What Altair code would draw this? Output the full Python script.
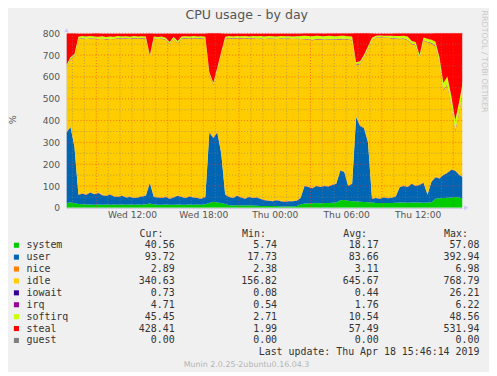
import altair as alt
import pandas as pd

# ---------------- data ----------------
series = ["system", "user", "nice", "idle", "iowait", "irq", "softirq", "steal", "guest"]
colors = ["#00CC00", "#0066B3", "#FF8000", "#FFCC00", "#330099", "#990099", "#CCFF00", "#FF0000", "#808080"]

# samples every 20 minutes starting Wed 06:30 (hours since Wed 00:00)
start_hour = 6.5
step_hour = 1 / 3

system = [22, 24, 22, 18, 16, 15, 15, 14, 15, 14,
          15, 14, 15, 14, 15, 14, 15, 14, 15, 14,
          16, 20, 15, 14, 14, 15, 14, 14, 15, 14,
          14, 15, 14, 15, 14, 16, 22, 28, 25, 22,
          18, 12, 11, 12, 11, 11, 12, 11, 10, 9,
          8, 8, 8, 8, 6, 6, 7, 6, 8, 15,
          20, 20, 21, 22, 21, 22, 22, 23, 24, 35,
          36, 33, 30, 30, 28, 27, 26, 24, 22, 22,
          22, 22, 22, 23, 24, 24, 23, 24, 24, 24,
          23, 24, 26, 42, 44, 45, 46, 48, 50, 48,
          41]
user = [323, 346, 258, 42, 49, 45, 55, 48, 53, 44,
        40, 46, 37, 36, 40, 34, 35, 31, 33, 38,
        39, 95, 35, 34, 31, 35, 28, 34, 40, 36,
        31, 37, 34, 30, 28, 34, 323, 292, 320, 228,
        42, 38, 34, 43, 37, 31, 38, 34, 38, 31,
        27, 24, 22, 27, 24, 22, 23, 24, 24, 30,
        80, 75, 69, 78, 74, 78, 76, 82, 86, 135,
        129, 67, 80, 385, 347, 338, 274, 18, 23, 20,
        26, 22, 24, 29, 71, 76, 72, 86, 76, 81,
        92, 36, 94, 98, 91, 105, 114, 127, 120, 102,
        99]
nice = [3.2, 3.1, 3.0, 2.9, 3.0, 3.1, 2.9, 3.0, 3.2, 3.0,
        2.9, 3.1, 3.0, 2.8, 3.0, 3.1, 2.9, 3.0, 3.0, 3.1,
        3.0, 3.4, 2.9, 3.0, 3.1, 2.9, 3.0, 3.1, 3.0, 2.9,
        3.0, 3.1, 2.9, 3.0, 3.0, 3.1, 4.5, 5.2, 4.8, 3.6,
        3.0, 2.9, 3.0, 3.1, 2.9, 3.0, 3.0, 2.9, 3.1, 3.0,
        2.9, 3.0, 2.8, 2.9, 3.0, 2.9, 2.8, 3.0, 2.9, 3.0,
        3.1, 3.2, 3.0, 3.1, 3.2, 3.0, 3.1, 3.2, 3.1, 3.4,
        3.3, 3.1, 3.2, 4.6, 4.4, 4.2, 3.8, 3.1, 3.0, 2.9,
        3.0, 2.9, 3.0, 3.1, 3.2, 3.1, 3.2, 3.3, 3.2, 3.3,
        3.2, 3.1, 3.3, 3.4, 3.2, 3.1, 3.0, 3.1, 2.9, 2.9,
        2.9]
idle = [296.5, 306.5, 411.5, 711.5, 707.5, 710.5, 702.5, 708.5, 701.5, 713.5,
        713.5, 710.5, 717.5, 724.5, 717.5, 725.5, 721.5, 729.5, 724.5, 721.5,
        717.5, 571.5, 722.5, 722.5, 727.5, 716.5, 704.5, 723.5, 696.5, 722.5,
        728.5, 720.5, 726.5, 727.5, 731.5, 721.5, 261.5, 236.5, 281.5, 451.5,
        711.5, 724.5, 727.5, 719.5, 725.5, 732.5, 722.5, 729.5, 723.5, 732.5,
        735.5, 740.5, 741.5, 735.5, 742.5, 743.5, 742.5, 740.5, 739.5, 725.5,
        669.5, 672.5, 675.5, 668.5, 673.5, 666.5, 669.5, 662.5, 657.5, 598.5,
        604.5, 667.5, 655.5, 234.5, 279.5, 319.5, 424.5, 722.5, 730.5, 734.5,
        727.5, 732.5, 727.5, 720.5, 674.5, 671.5, 670.5, 637.5, 642.5, 575.5,
        647.5, 695.5, 630.5, 596.5, 524.5, 384.5, 399.5, 289.5, 179.5, 284.5,
        394.5]
iowait = [0.5, 0.6, 0.5, 0.4, 0.4, 0.3, 0.4, 0.5, 0.4, 0.3,
          0.4, 0.4, 0.3, 0.4, 0.5, 0.4, 0.3, 0.4, 0.4, 0.3,
          0.4, 0.6, 0.4, 0.3, 0.4, 0.4, 0.5, 0.4, 0.3, 0.4,
          0.4, 0.3, 0.4, 0.4, 0.3, 0.4, 0.8, 0.9, 0.7, 0.5,
          0.4, 0.3, 0.4, 0.4, 0.3, 0.4, 0.4, 0.3, 0.4, 0.4,
          0.3, 0.4, 0.3, 0.4, 0.3, 0.4, 0.3, 0.4, 0.3, 0.4,
          0.5, 0.4, 0.5, 0.4, 0.5, 0.4, 0.5, 0.4, 0.5, 0.6,
          0.5, 0.4, 0.5, 0.7, 0.6, 0.6, 0.5, 0.4, 0.3, 0.4,
          0.4, 0.3, 0.4, 0.4, 0.5, 0.4, 0.5, 0.4, 0.5, 0.4,
          0.5, 0.4, 0.5, 0.6, 0.6, 0.7, 0.7, 0.8, 0.7, 0.7,
          0.7]
irq = [1.8, 1.9, 1.8, 1.6, 1.6, 1.5, 1.6, 1.7, 1.6, 1.5,
       1.6, 1.6, 1.5, 1.6, 1.5, 1.6, 1.5, 1.6, 1.5, 1.6,
       1.5, 2.2, 1.6, 1.5, 1.6, 1.5, 1.6, 1.5, 1.6, 1.5,
       1.6, 1.5, 1.6, 1.5, 1.6, 1.6, 2.4, 2.6, 2.5, 2.0,
       1.6, 1.5, 1.6, 1.5, 1.4, 1.5, 1.4, 1.5, 1.4, 1.5,
       1.4, 1.3, 1.4, 1.3, 1.4, 1.3, 1.4, 1.3, 1.4, 1.5,
       1.8, 1.7, 1.8, 1.7, 1.8, 1.7, 1.8, 1.7, 1.8, 2.1,
       2.0, 1.8, 1.8, 2.6, 2.5, 2.4, 2.1, 1.7, 1.6, 1.6,
       1.7, 1.6, 1.7, 1.7, 1.9, 1.9, 1.8, 2.0, 1.9, 2.0,
       2.1, 1.9, 2.1, 2.6, 3.0, 3.4, 3.8, 4.2, 4.5, 4.6,
       4.7]
softirq = [8, 8, 8, 8, 10, 10, 10, 10, 10, 10,
           10, 10, 10, 8, 8, 8, 8, 8, 8, 8,
           8, 8, 8, 8, 8, 8, 8, 8, 8, 8,
           8, 8, 8, 8, 8, 8, 8, 8, 8, 8,
           8, 8, 8, 8, 8, 8, 8, 8, 10, 10,
           10, 10, 10, 10, 10, 10, 10, 10, 10, 12,
           14, 15, 16, 15, 14, 15, 16, 15, 14, 14,
           14, 14, 14, 10, 10, 10, 10, 10, 8, 8,
           8, 8, 10, 10, 12, 12, 14, 12, 12, 14,
           12, 14, 14, 18, 25, 30, 35, 40, 45, 45,
           45]
steal = [145, 110, 95, 15, 12, 14, 12, 14, 15, 13,
         16, 14, 15, 12, 14, 13, 15, 12, 14, 13,
         14, 100, 14, 16, 14, 20, 40, 15, 35, 14,
         13, 14, 12, 14, 13, 15, 180, 230, 160, 85,
         15, 12, 14, 12, 13, 12, 14, 12, 13, 12,
         14, 12, 13, 14, 12, 13, 12, 14, 13, 12,
         11, 12, 13, 11, 12, 13, 11, 12, 13, 12,
         11, 13, 15, 135, 130, 100, 60, 20, 11, 10,
         11, 10, 11, 12, 13, 11, 15, 35, 40, 100,
         20, 25, 30, 40, 110, 230, 200, 290, 400, 315,
         215]
guest = [0.00] * len(system)

cur_vals = [40.56, 93.72, 2.89, 340.63, 0.73, 4.71, 45.45, 428.41, 0.00]
min_vals = [5.74, 17.73, 2.38, 156.82, 0.08, 0.54, 2.71, 1.99, 0.00]
avg_vals = [18.17, 83.66, 3.11, 645.67, 0.44, 1.76, 10.54, 57.49, 0.00]
max_vals = [57.08, 392.94, 6.98, 768.79, 26.21, 6.22, 48.56, 531.94, 0.00]

x_tick_hours = [12, 18, 24, 30, 36]
x_tick_labels = ["Wed 12:00", "Wed 18:00", "Thu 00:00", "Thu 06:00", "Thu 12:00"]
y_ticks = [0, 100, 200, 300, 400, 500, 600, 700, 800]
h_minor = [50, 150, 250, 350, 450, 550, 650, 750]
h_major = [100, 200, 300, 400, 500, 600, 700, 800]
v_major = [9, 15, 21, 27, 33, 39]
v_minor = [h for h in range(7, 40) if h not in v_major]

title_text = "CPU usage - by day"
y_title = "%"
side_text = "RRDTOOL / TOBI OETIKER"
headers = ["Cur:", "Min:", "Avg:", "Max:"]
last_update = "Last update: Thu Apr 18 15:46:14 2019"
version_text = "Munin 2.0.25-2ubuntu0.16.04.3"

# ---------------- build ----------------
W, H = 399, 176
hours = [start_hour + k * step_hour for k in range(len(system))]
all_vals = [system, user, nice, idle, iowait, irq, softirq, steal, guest]
rows = []
for i, (name, vals) in enumerate(zip(series, all_vals)):
    for hh, v in zip(hours, vals):
        rows.append({"hour": hh, "value": v, "series": name, "idx": i})
df = pd.DataFrame(rows)

xscale = alt.Scale(domain=[6.5, 39.75], nice=False, zero=False)
yscale = alt.Scale(domain=[0, 800], nice=False)
cscale = alt.Scale(domain=series, range=colors)

label_expr = " : ".join(
    f"datum.value == {h} ? '{l}'" for h, l in zip(x_tick_hours, x_tick_labels)
) + " : ''"

axis_color = "#c8c8dc"
lab_color = "#555555"

x_axis = alt.Axis(values=x_tick_hours, labelExpr=label_expr, grid=False, ticks=False,
                  labelPadding=3, labelFont="DejaVu Sans", labelFontSize=9.2,
                  labelColor=lab_color, domainColor=axis_color, title="",
                  labelFlush=False, labelOverlap=False)
y_axis = alt.Axis(values=y_ticks, grid=False, ticks=False, labelPadding=7,
                  labelFont="DejaVu Sans", labelFontSize=9.2, labelColor=lab_color,
                  domainColor=axis_color, title="", labelFlush=False)

area = alt.Chart(df).mark_area(clip=True, interpolate="linear").encode(
    x=alt.X("hour:Q", scale=xscale, axis=x_axis),
    y=alt.Y("value:Q", stack="zero", scale=yscale, axis=y_axis),
    color=alt.Color("series:N", scale=cscale, legend=None),
    order=alt.Order("idx:Q", sort="ascending"),
)

def hrule(vals, color, op):
    return alt.Chart(pd.DataFrame({"value": vals})).mark_rule(
        stroke=color, strokeDash=[1, 2], strokeWidth=1, opacity=op
    ).encode(y=alt.Y("value:Q", scale=yscale, axis=y_axis))

def vrule(vals, color, op):
    return alt.Chart(pd.DataFrame({"hour": vals})).mark_rule(
        stroke=color, strokeDash=[1, 2], strokeWidth=1, opacity=op
    ).encode(x=alt.X("hour:Q", scale=xscale, axis=x_axis))

grid = [
    hrule(h_minor, "#808080", 0.55),
    vrule(v_minor, "#808080", 0.55),
    hrule(h_major, "#ff3030", 0.6),
    vrule(v_major, "#ff3030", 0.6),
]

def text_layer(txt, x, y, size, color, font="DejaVu Sans", align="left", angle=0):
    return alt.Chart(pd.DataFrame({"t": [txt]})).mark_text(
        font=font, fontSize=size, color=color, align=align, baseline="middle", angle=angle
    ).encode(text="t:N", x=alt.value(x), y=alt.value(y))

arrows = [
    alt.Chart(pd.DataFrame({"a": [0]})).mark_point(
        shape="triangle-up", filled=True, size=22, color="#c8c8ff", opacity=1
    ).encode(x=alt.value(0), y=alt.value(-3)),
    alt.Chart(pd.DataFrame({"a": [0]})).mark_point(
        shape="triangle-right", filled=True, size=22, color="#c8c8ff", opacity=1
    ).encode(x=alt.value(W + 4), y=alt.value(H)),
]

texts = [
    text_layer(title_text, 181.7, -18.7, 12.7, "#555555", align="center"),
    text_layer(y_title, -54, 87.3, 9.5, "#555555", align="center", angle=270),
    text_layer(side_text, 421.3, 28.5, 8, "#c8c8c8", align="center", angle=90),
    text_layer(last_update, 416.3, 321.7, 10, "#333333", font="DejaVu Sans Mono", align="right"),
    text_layer(version_text, 181.5, 334, 8, "#b4b4b4", align="center"),
]
header_left = [73.7, 177, 279, 380.7]
for htxt, hx in zip(headers, header_left):
    texts.append(text_layer(htxt, hx, 202.3, 10, "#333333", font="DejaVu Sans Mono"))

main = alt.layer(area, *grid, *arrows, *texts)

# legend table
leg = pd.DataFrame({"series": series, "cur": cur_vals, "min": min_vals,
                    "avg": avg_vals, "max": max_vals})
ly = alt.Y("series:N", scale=alt.Scale(domain=series, range=[213.7, 309.7], padding=0), axis=None)
swatch = alt.Chart(leg).mark_square(size=26, opacity=1, filled=True).encode(
    x=alt.value(-50.5), y=ly, color=alt.Color("series:N", scale=cscale, legend=None))
names = alt.Chart(leg).mark_text(font="DejaVu Sans Mono", fontSize=10, color="#333333",
                                 align="left", baseline="middle").encode(
    x=alt.value(-40.3), y=ly, text="series:N")
value_layers = []
for col, xr in zip(["cur", "min", "avg", "max"], [109, 212.3, 314.7, 416.3]):
    value_layers.append(
        alt.Chart(leg).mark_text(font="DejaVu Sans Mono", fontSize=10, color="#333333",
                                 align="right", baseline="middle").encode(
            x=alt.value(xr), y=ly, text=alt.Text(f"{col}:Q", format=".2f")))
legend = alt.layer(swatch, names, *value_layers)

chart = alt.layer(main, legend).resolve_scale(y="independent").properties(
    width=W, height=H,
    autosize=alt.AutoSizeParams(type="none"),
    padding={"left": 59, "top": 24, "right": 27, "bottom": 164},
    background="#F0F0F0",
).configure_view(stroke=None)

chart.save("out.html", embed_options={"renderer": "svg", "actions": False})
